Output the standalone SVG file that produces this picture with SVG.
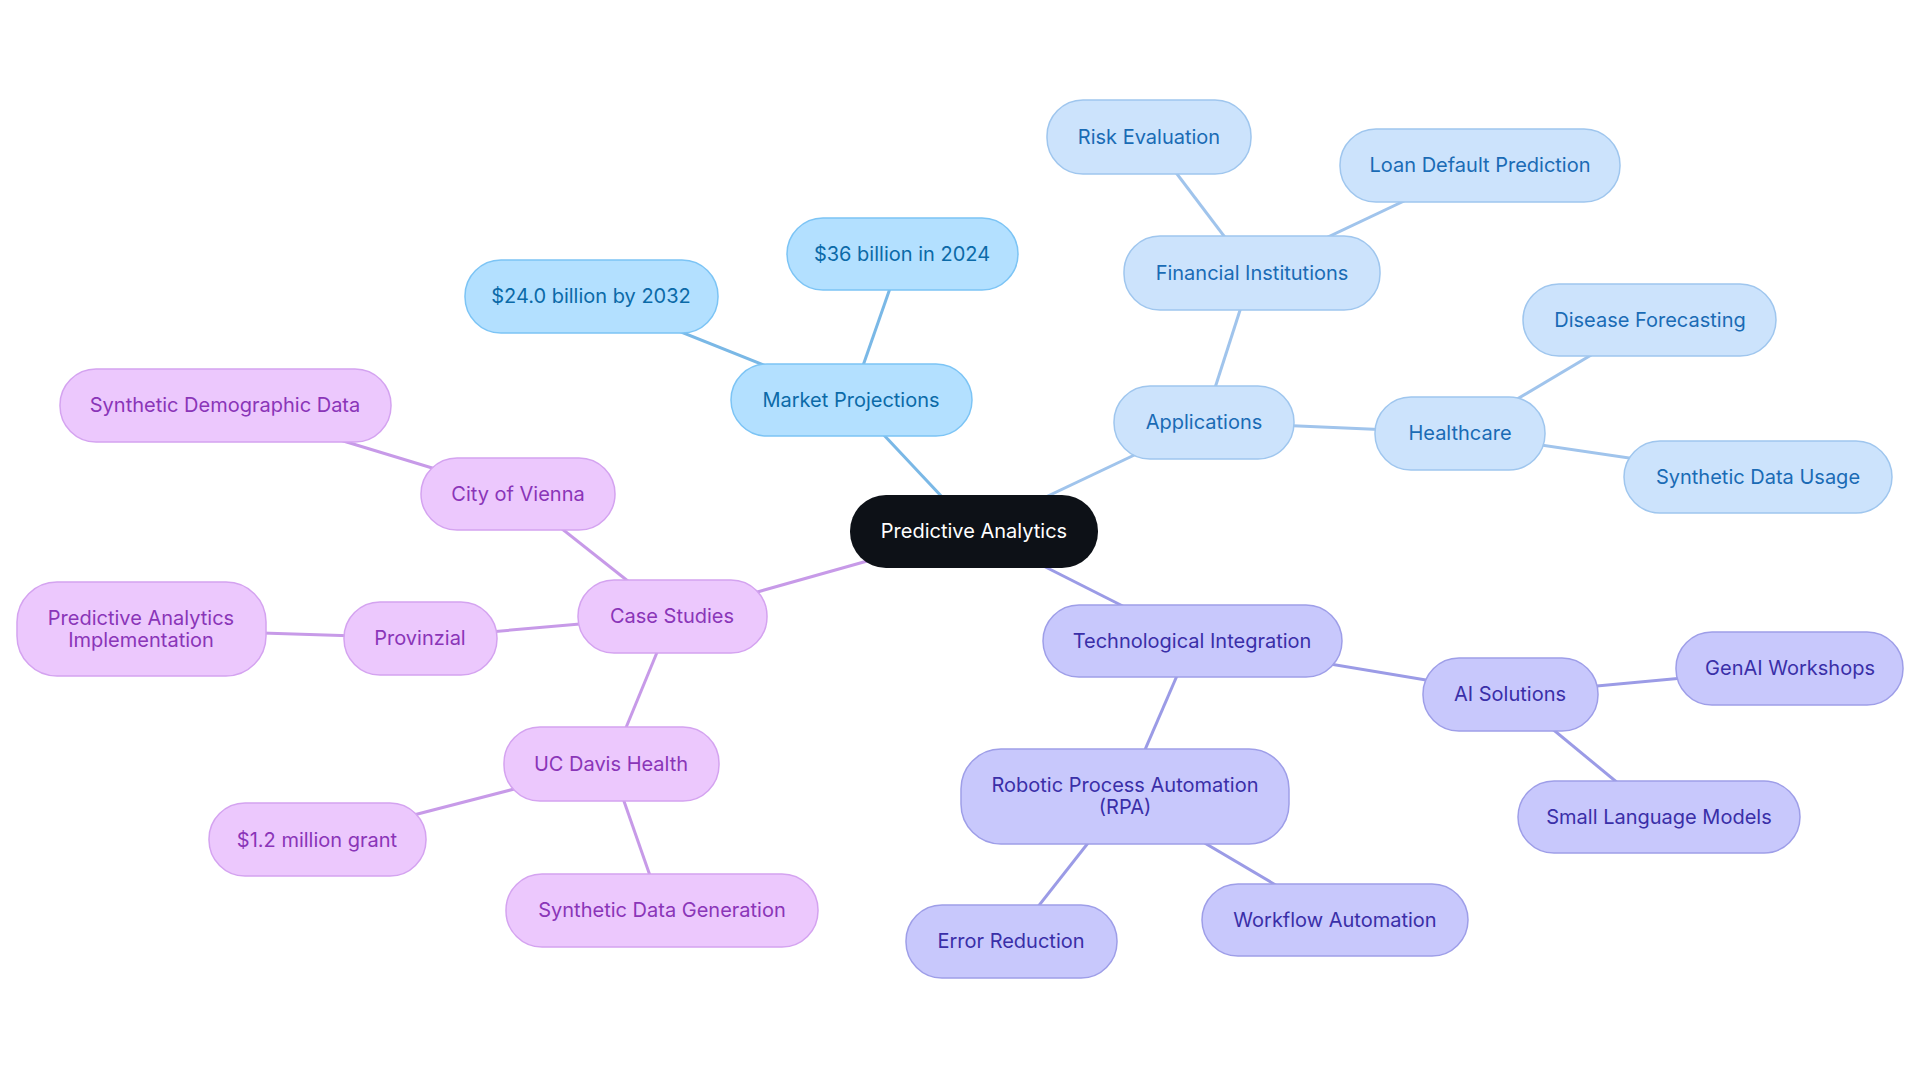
<svg xmlns="http://www.w3.org/2000/svg" width="1920" height="1083" viewBox="0 0 1920 1083">
<style>
text{font-family:Inter,"Noto Sans",sans-serif;font-size:20px;text-anchor:middle;dominant-baseline:central}
.m rect{fill:#b3e0ff;stroke:#7cc4f5;stroke-width:1.5}.m text{fill:#0b6aa8}
.a rect{fill:#cce3fc;stroke:#9fc6ee;stroke-width:1.5}.a text{fill:#1a6bb5}
.c rect{fill:#ecc8fd;stroke:#d4a3f0;stroke-width:1.5}.c text{fill:#8a35b8}
.t rect{fill:#c8c8fc;stroke:#9e9ee8;stroke-width:1.5}.t text{fill:#3a2fa8}
.e line{stroke-width:3}
</style>
<rect width="1920" height="1083" fill="#fff"/>
<g class="e">
<g stroke="#7ab8e6"><line x1="974" y1="531" x2="851" y2="400"/><line x1="851" y1="400" x2="902" y2="254"/><line x1="851" y1="400" x2="591" y2="296"/></g>
<g stroke="#a0c4ec"><line x1="974" y1="531" x2="1204" y2="422"/><line x1="1204" y1="422" x2="1252" y2="273"/><line x1="1252" y1="273" x2="1149" y2="137"/><line x1="1252" y1="273" x2="1480" y2="165"/><line x1="1204" y1="422" x2="1460" y2="433"/><line x1="1460" y1="433" x2="1650" y2="320"/><line x1="1460" y1="433" x2="1758" y2="477"/></g>
<g stroke="#c79ae8"><line x1="974" y1="531" x2="672" y2="616"/><line x1="672" y1="616" x2="518" y2="494"/><line x1="518" y1="494" x2="225" y2="405"/><line x1="672" y1="616" x2="420" y2="638"/><line x1="420" y1="638" x2="141" y2="629"/><line x1="672" y1="616" x2="611" y2="764"/><line x1="611" y1="764" x2="317" y2="840"/><line x1="611" y1="764" x2="662" y2="910"/></g>
<g stroke="#9b9be6"><line x1="974" y1="531" x2="1192" y2="641"/><line x1="1192" y1="641" x2="1510" y2="694"/><line x1="1510" y1="694" x2="1790" y2="668"/><line x1="1510" y1="694" x2="1659" y2="817"/><line x1="1192" y1="641" x2="1125" y2="796"/><line x1="1125" y1="796" x2="1011" y2="941"/><line x1="1125" y1="796" x2="1335" y2="920"/></g>
</g>
<g id="center"><rect x="850" y="495" width="248" height="73" rx="36" fill="#0d1117"/><text x="974" y="531" fill="#fff">Predictive Analytics</text></g>
<g id="market" class="m"><rect x="731" y="364" width="241" height="72" rx="36"/><text x="851" y="400">Market Projections</text></g>
<g id="m36" class="m"><rect x="787" y="218" width="231" height="72" rx="36"/><text x="902" y="254">$36 billion in 2024</text></g>
<g id="m24" class="m"><rect x="465" y="260" width="253" height="73" rx="36"/><text x="591" y="296">$24.0 billion by 2032</text></g>
<g id="apps" class="a"><rect x="1114" y="386" width="180" height="73" rx="36"/><text x="1204" y="422">Applications</text></g>
<g id="fin" class="a"><rect x="1124" y="236" width="256" height="74" rx="36"/><text x="1252" y="273">Financial Institutions</text></g>
<g id="risk" class="a"><rect x="1047" y="100" width="204" height="74" rx="36"/><text x="1149" y="137">Risk Evaluation</text></g>
<g id="loan" class="a"><rect x="1340" y="129" width="280" height="73" rx="36"/><text x="1480" y="165">Loan Default Prediction</text></g>
<g id="health" class="a"><rect x="1375" y="397" width="170" height="73" rx="36"/><text x="1460" y="433">Healthcare</text></g>
<g id="disease" class="a"><rect x="1523" y="284" width="253" height="72" rx="36"/><text x="1650" y="320">Disease Forecasting</text></g>
<g id="synuse" class="a"><rect x="1624" y="441" width="268" height="72" rx="36"/><text x="1758" y="477">Synthetic Data Usage</text></g>
<g id="case" class="c"><rect x="578" y="580" width="189" height="73" rx="36"/><text x="672" y="616">Case Studies</text></g>
<g id="vienna" class="c"><rect x="421" y="458" width="194" height="72" rx="36"/><text x="518" y="494">City of Vienna</text></g>
<g id="demo" class="c"><rect x="60" y="369" width="331" height="73" rx="36"/><text x="225" y="405">Synthetic Demographic Data</text></g>
<g id="prov" class="c"><rect x="344" y="602" width="153" height="73" rx="36"/><text x="420" y="638">Provinzial</text></g>
<g id="pai" class="c"><rect x="17" y="582" width="249" height="94" rx="40"/><text x="141" y="618">Predictive Analytics</text><text x="141" y="640">Implementation</text></g>
<g id="ucd" class="c"><rect x="504" y="727" width="215" height="74" rx="36"/><text x="611" y="764">UC Davis Health</text></g>
<g id="grant" class="c"><rect x="209" y="803" width="217" height="73" rx="36"/><text x="317" y="840">$1.2 million grant</text></g>
<g id="syngen" class="c"><rect x="506" y="874" width="312" height="73" rx="36"/><text x="662" y="910">Synthetic Data Generation</text></g>
<g id="tech" class="t"><rect x="1043" y="605" width="299" height="72" rx="36"/><text x="1192" y="641">Technological Integration</text></g>
<g id="ai" class="t"><rect x="1423" y="658" width="175" height="73" rx="36"/><text x="1510" y="694">AI Solutions</text></g>
<g id="genai" class="t"><rect x="1676" y="632" width="227" height="73" rx="36"/><text x="1790" y="668">GenAI Workshops</text></g>
<g id="slm" class="t"><rect x="1518" y="781" width="282" height="72" rx="36"/><text x="1659" y="817">Small Language Models</text></g>
<g id="rpa" class="t"><rect x="961" y="749" width="328" height="95" rx="40"/><text x="1125" y="785">Robotic Process Automation</text><text x="1125" y="807">(RPA)</text></g>
<g id="err" class="t"><rect x="906" y="905" width="211" height="73" rx="36"/><text x="1011" y="941">Error Reduction</text></g>
<g id="wf" class="t"><rect x="1202" y="884" width="266" height="72" rx="36"/><text x="1335" y="920">Workflow Automation</text></g>
</svg>
